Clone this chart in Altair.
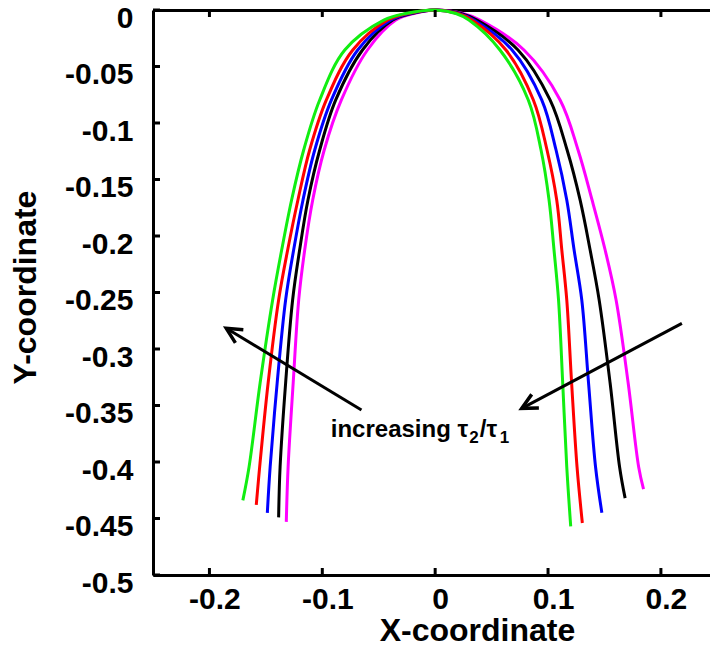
import math
import altair as alt
import pandas as pd

# ---------------- data ----------------
Y_LEVELS = [-0.0031, -0.0089, -0.0354, -0.0796, -0.1239, -0.1681, -0.2124, -0.2566, -0.3301, -0.4044]

GREEN_LEFT = [-0.0260, -0.0455, -0.0801, -0.1023, -0.1165, -0.1272, -0.1360, -0.1440, -0.1551, -0.1649]
GREEN_RIGHT = [0.0184, 0.0299, 0.0574, 0.0825, 0.0938, 0.1009, 0.1053, 0.1093, 0.1130, 0.1166]
GREEN_ENDS = [(-0.1704, -0.434), (0.1201, -0.457)]

RED_LEFT = [-0.0242, -0.0420, -0.0730, -0.0964, -0.1112, -0.1216, -0.1307, -0.1387, -0.1480, -0.1555]
RED_RIGHT = [0.0201, 0.0326, 0.0627, 0.0870, 0.0991, 0.1077, 0.1122, 0.1166, 0.1209, 0.1257]
RED_ENDS = [(-0.1585, -0.438), (0.1304, -0.454)]

BLUE_LEFT = [-0.0225, -0.0393, -0.0686, -0.0919, -0.1067, -0.1171, -0.1254, -0.1325, -0.1400, -0.1462]
BLUE_RIGHT = [0.0210, 0.0344, 0.0681, 0.0944, 0.1071, 0.1166, 0.1231, 0.1299, 0.1359, 0.1421]
BLUE_ENDS = [(-0.1487, -0.445), (0.1477, -0.445)]

BLACK_LEFT = [-0.0207, -0.0376, -0.0644, -0.0881, -0.1023, -0.1127, -0.1201, -0.1263, -0.1325, -0.1374]
BLACK_RIGHT = [0.0228, 0.0370, 0.0734, 0.1018, 0.1169, 0.1284, 0.1373, 0.1453, 0.1550, 0.1634]
BLACK_ENDS = [(-0.1387, -0.449), (0.1683, -0.432)]

MAGENTA_LEFT = [-0.0189, -0.0349, -0.0600, -0.0831, -0.0983, -0.1085, -0.1156, -0.1209, -0.1258, -0.1303]
MAGENTA_RIGHT = [0.0246, 0.0397, 0.0787, 0.1107, 0.1266, 0.1390, 0.1506, 0.1603, 0.1710, 0.1803]
MAGENTA_ENDS = [(-0.1319, -0.453), (0.1846, -0.424)]

SERIES = ["magenta", "black", "blue", "red", "green"]          # drawing order
COLORS = ["#ff00ff", "#000000", "#0000ff", "#ff0000", "#11ee11"]

X_TICKS = [-0.2, -0.1, 0, 0.1, 0.2]
Y_TICKS = [-0.5, -0.45, -0.4, -0.35, -0.3, -0.25, -0.2, -0.15, -0.1, -0.05, 0]

ARROW_TAIL_X = [-0.0653, 0.2186]
ARROW_TAIL_Y = [-0.354, -0.2773]
ARROW_TIP_X = [-0.1851, 0.0767]
ARROW_TIP_Y = [-0.2817, -0.3525]

# annotation "increasing τ2/τ1" split into normal text and subscripts
LABEL_TEXT = ["increasing τ", "/τ"]
LABEL_X = [-0.0925, 0.0395]
LABEL_Y = [-0.3776, -0.3776]
SUB_TEXT = ["2", "1"]
SUB_X = [0.0302, 0.0572]
SUB_Y = [-0.3835, -0.3835]

X_DOMAIN = [-0.25, 0.2435]
Y_DOMAIN = [-0.5, 0]
W, H = 557, 565

# ---------------- build tables ----------------
curves = {
    "green": (GREEN_LEFT, GREEN_RIGHT, GREEN_ENDS),
    "red": (RED_LEFT, RED_RIGHT, RED_ENDS),
    "blue": (BLUE_LEFT, BLUE_RIGHT, BLUE_ENDS),
    "black": (BLACK_LEFT, BLACK_RIGHT, BLACK_ENDS),
    "magenta": (MAGENTA_LEFT, MAGENTA_RIGHT, MAGENTA_ENDS),
}
rows = []
for name in SERIES:
    left, right, ends = curves[name]
    pts = [ends[0]]
    pts += list(zip(left, Y_LEVELS))[::-1]
    pts += [(0.0, 0.0)]
    pts += list(zip(right, Y_LEVELS))
    pts += [ends[1]]
    for i, (x, y) in enumerate(pts):
        rows.append({"series": name, "x": x, "y": y, "idx": i})
curve_df = pd.DataFrame(rows)

px_per_x = W / (X_DOMAIN[1] - X_DOMAIN[0])
px_per_y = H / (Y_DOMAIN[1] - Y_DOMAIN[0])
angles = []
for tx, ty, hx, hy in zip(ARROW_TAIL_X, ARROW_TAIL_Y, ARROW_TIP_X, ARROW_TIP_Y):
    dx = (hx - tx) * px_per_x
    dy = -(hy - ty) * px_per_y
    angles.append(math.degrees(math.atan2(dx, -dy)) % 360)
arrow_df = pd.DataFrame({
    "x": ARROW_TAIL_X, "y": ARROW_TAIL_Y,
    "x2": ARROW_TIP_X, "y2": ARROW_TIP_Y, "angle": angles,
})
label_df = pd.DataFrame({"text": LABEL_TEXT, "x": LABEL_X, "y": LABEL_Y})
sub_df = pd.DataFrame({"text": SUB_TEXT, "x": SUB_X, "y": SUB_Y})
xtick_df = pd.DataFrame({"v": X_TICKS})
ytick_df = pd.DataFrame({"v": Y_TICKS})

FONT = "Liberation Sans"
TICK = 7
xs = alt.Scale(domain=X_DOMAIN, nice=False, zero=False)
ys = alt.Scale(domain=Y_DOMAIN, nice=False, zero=False)

base_axis = dict(grid=False, domainColor="black", domainWidth=3, ticks=False)
text_axis = dict(labelFont=FONT, labelFontSize=30, labelFontWeight="bold",
                 labelColor="black", titleFont=FONT, titleFontSize=32,
                 titleFontWeight="bold", titleColor="black")

x_axis = alt.Axis(
    orient="bottom", values=X_TICKS, labelExpr="'' + datum.value",
    labelPadding=9, labelOffset=5, labelFlush=False,
    title="X-coordinate", titleX=324, titleY=65,
    titleBaseline="alphabetic", titleAlign="center",
    **base_axis, **text_axis,
)
y_axis = alt.Axis(
    orient="left", values=Y_TICKS, labelExpr="'' + datum.value",
    labelPadding=20, labelOffset=8, labelBaseline="middle",
    labelFlush=False, title="Y-coordinate", titleX=-128, titleY=277,
    titleAngle=270, titleBaseline="middle", titleAlign="center",
    **base_axis, **text_axis,
)
top_axis = alt.Axis(orient="top", values=X_TICKS, labels=False, title=None,
                    **base_axis)

lines = alt.Chart(curve_df).mark_line(strokeWidth=3, interpolate="catmull-rom").encode(
    x=alt.X("x:Q", scale=xs, axis=x_axis),
    y=alt.Y("y:Q", scale=ys, axis=y_axis),
    color=alt.Color("series:N", scale=alt.Scale(domain=SERIES, range=COLORS), legend=None),
    order=alt.Order("idx:Q"),
)

top_frame = alt.Chart(curve_df).mark_point(opacity=0).encode(
    x=alt.X("x:Q", scale=xs, axis=top_axis),
    y=alt.Y("y:Q", scale=ys, axis=None),
)

# inward ticks on bottom, top and left frame lines
bottom_ticks = alt.Chart(xtick_df).mark_rule(strokeWidth=3, color="black", y2Offset=-TICK).encode(
    x=alt.X("v:Q", scale=xs, axis=None),
    y=alt.Y(datum=Y_DOMAIN[0], scale=ys, axis=None),
    y2=alt.Y2(datum=Y_DOMAIN[0]),
)
top_ticks = alt.Chart(xtick_df).mark_rule(strokeWidth=3, color="black", y2Offset=TICK).encode(
    x=alt.X("v:Q", scale=xs, axis=None),
    y=alt.Y(datum=Y_DOMAIN[1], scale=ys, axis=None),
    y2=alt.Y2(datum=Y_DOMAIN[1]),
)
left_ticks = alt.Chart(ytick_df).mark_rule(strokeWidth=3, color="black", x2Offset=TICK).encode(
    y=alt.Y("v:Q", scale=ys, axis=None),
    x=alt.X(datum=X_DOMAIN[0], scale=xs, axis=None),
    x2=alt.X2(datum=X_DOMAIN[0]),
)

shafts = alt.Chart(arrow_df).mark_rule(strokeWidth=3, color="black").encode(
    x=alt.X("x:Q", scale=xs, axis=None),
    y=alt.Y("y:Q", scale=ys, axis=None),
    x2="x2:Q", y2="y2:Q",
)

heads = alt.Chart(arrow_df).mark_point(
    shape="M -0.7 1.4 L 0 0 L 0.7 1.4", filled=False, strokeWidth=3.5,
    color="black", size=480, opacity=1,
).encode(
    x=alt.X("x2:Q", scale=xs, axis=None),
    y=alt.Y("y2:Q", scale=ys, axis=None),
    angle=alt.Angle("angle:Q", scale=None),
)

label = alt.Chart(label_df).mark_text(
    font=FONT, fontSize=24, fontWeight="bold", color="black",
    align="left", baseline="alphabetic",
).encode(
    x=alt.X("x:Q", scale=xs, axis=None),
    y=alt.Y("y:Q", scale=ys, axis=None),
    text="text:N",
)
subs = alt.Chart(sub_df).mark_text(
    font=FONT, fontSize=17, fontWeight="bold", color="black",
    align="left", baseline="alphabetic",
).encode(
    x=alt.X("x:Q", scale=xs, axis=None),
    y=alt.Y("y:Q", scale=ys, axis=None),
    text="text:N",
)

chart = alt.layer(
    lines, top_frame, bottom_ticks, top_ticks, left_ticks, shafts, heads, label, subs
).resolve_axis(
    x="independent", y="independent"
).properties(
    width=W, height=H,
    autosize=alt.AutoSizeParams(type="none"),
    padding={"left": 153, "top": 10, "right": 0, "bottom": 75},
    background="white",
).configure_view(stroke=None)

chart.save("out.html", embed_options={"renderer": "svg", "actions": False})
